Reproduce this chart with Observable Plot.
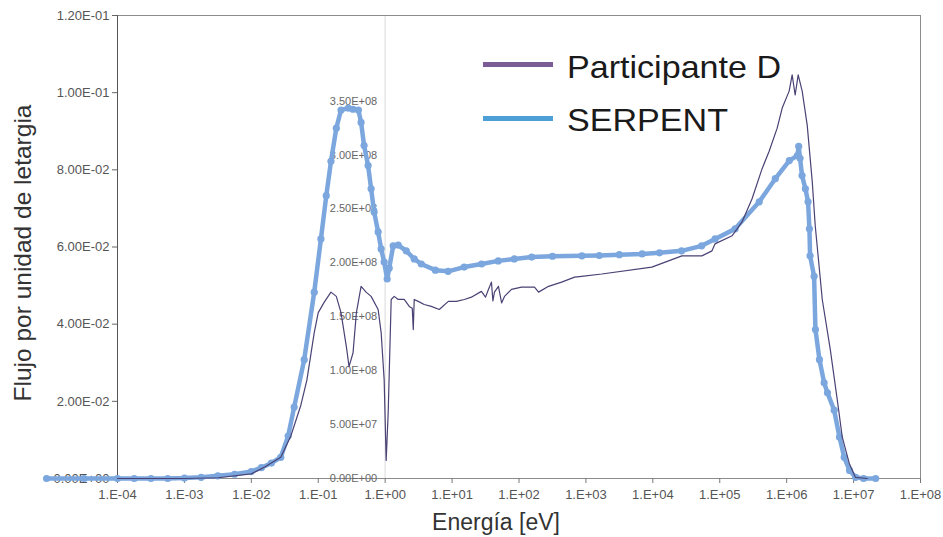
<!DOCTYPE html>
<html><head><meta charset="utf-8">
<script src="https://cdn.jsdelivr.net/npm/d3@7"></script>
<script src="https://cdn.jsdelivr.net/npm/@observablehq/plot@0.6"></script>
<style>
body{margin:0;background:#fff;}
#wrap{position:relative;width:943px;height:537px;font-family:"Liberation Sans",Arial,sans-serif;}
.sw{position:absolute;left:483px;width:70px;height:5px;}
.lg{position:absolute;left:567px;font-size:32px;line-height:32px;color:#1a1a1a;white-space:nowrap;transform:scaleX(1.065);transform-origin:left center;}
</style></head><body>
<div id="wrap">
  <div class="sw" style="top:62px;background:#7b5c94"></div>
  <div class="lg" style="top:51px">Participante D</div>
  <div class="sw" style="top:116px;background:#4da0d6"></div>
  <div class="lg" style="top:104px">SERPENT</div>
</div>
<script>
// Energy given as log10(E / eV), flux per unit lethargy
const serpentExp = [-5.06,-4.5,-4,-3.75,-3.5,-3.25,-3.0,-2.75,-2.5,-2.25,-2.0,-1.85,-1.7,-1.56,-1.45,-1.36,-1.21,-1.06,-0.96,-0.88,-0.81,-0.73,-0.66,-0.55,-0.48,-0.40,-0.36,-0.315,-0.255,-0.21,-0.165,-0.105,-0.06,-0.015,0.03,0.06,0.12,0.195,0.315,0.434,0.54,0.75,0.94,1.18,1.44,1.69,1.93,2.19,2.5,2.94,3.2,3.5,3.84,4.1,4.43,4.73,4.93,5.23,5.59,5.83,6.04,6.16,6.18,6.20,6.23,6.28,6.32,6.34,6.35,6.41,6.43,6.49,6.56,6.61,6.71,6.79,6.86,6.94,7.03,7.15,7.33];
const serpentVal = [0,0,0,0,0,0,0.0001,0.0003,0.0007,0.0011,0.0018,0.0028,0.0040,0.0055,0.0110,0.0185,0.0308,0.0483,0.0621,0.0733,0.0822,0.0908,0.0955,0.0960,0.0957,0.0955,0.0923,0.0863,0.0811,0.0751,0.0691,0.0639,0.0595,0.0561,0.0517,0.0545,0.0603,0.0605,0.0590,0.0569,0.0556,0.0540,0.0537,0.0548,0.0556,0.0564,0.0569,0.0574,0.0576,0.0577,0.0578,0.0580,0.0582,0.0585,0.0590,0.0603,0.0621,0.0647,0.0717,0.0777,0.0824,0.0837,0.0861,0.0830,0.0785,0.0751,0.0717,0.0647,0.0577,0.0524,0.0386,0.0308,0.0248,0.0222,0.0177,0.0107,0.0055,0.0021,0.0003,0,0];

const partExp = [-4,-3,-2.5,-2.0,-1.8,-1.56,-1.41,-1.26,-1.17,-1.06,-1.00,-0.91,-0.81,-0.73,-0.66,-0.58,-0.54,-0.48,-0.43,-0.36,-0.285,-0.21,-0.105,-0.06,-0.015,0.015,0.045,0.09,0.135,0.195,0.285,0.36,0.405,0.42,0.434,0.494,0.584,0.689,0.809,0.944,1.064,1.184,1.288,1.438,1.50,1.543,1.588,1.61,1.633,1.693,1.74,1.783,1.888,2.037,2.232,2.292,2.442,2.637,2.831,2.936,3.236,3.985,4.434,4.734,4.884,4.929,5.184,5.333,5.483,5.633,5.738,5.858,5.933,6.037,6.082,6.127,6.172,6.232,6.307,6.382,6.427,6.532,6.652,6.757,6.831,6.936,7.026,7.206];
const partVal = [0,0,0.0002,0.0012,0.0030,0.0055,0.0110,0.0190,0.0255,0.0378,0.0430,0.0457,0.0483,0.0472,0.0430,0.0342,0.0290,0.0326,0.0430,0.0498,0.0483,0.0472,0.0438,0.0378,0.0256,0.0047,0.0170,0.0464,0.0472,0.0464,0.0464,0.0446,0.0441,0.0386,0.0464,0.0459,0.0451,0.0446,0.0438,0.0459,0.0459,0.0464,0.0470,0.0485,0.0470,0.0490,0.0509,0.0460,0.0483,0.0498,0.0455,0.0472,0.0490,0.0496,0.0496,0.0483,0.0498,0.0509,0.0522,0.0524,0.0530,0.0548,0.0577,0.0577,0.0590,0.0608,0.0629,0.0665,0.0725,0.0803,0.0848,0.0908,0.0960,0.1004,0.1046,0.0994,0.1046,0.1004,0.0916,0.0770,0.0655,0.0464,0.0334,0.0203,0.0107,0.0039,0.0003,0];

const xTickExp = [-4,-3,-2,-1,0,1,2,3,4,5,6,7,8];
const yTicks = [0,0.02,0.04,0.06,0.08,0.10,0.12];
// stray secondary axis labels left in the picture (values and where 3.5E+08 sits on the main axis)
const innerTicks = [0,5e7,1e8,1.5e8,2e8,2.5e8,3e8,3.5e8];
const innerTop = 3.5e8, innerTopOnMain = 0.0978;

const serpent = serpentExp.map((e,i)=>({E:10**e, v:serpentVal[i]}));
const part = partExp.map((e,i)=>({E:10**e, v:partVal[i]}));
const xTicks = xTickExp.map(e=>10**e);

const pad2 = n => String(Math.abs(n)).padStart(2,"0");
const fmtX = d => { const e = Math.round(Math.log10(d)); return "1.E" + (e<0?"-":"+") + pad2(e); };
const fmtSci = d => { const [m,e] = d.toExponential(2).split("e"); const n = +e; return m.toUpperCase() + "E" + (n<0?"-":"+") + pad2(n); };

const blue = "#7ba7de";
const chart = Plot.plot({
  width:943, height:537,
  marginLeft:117, marginRight:23, marginTop:15, marginBottom:59,
  style:{fontFamily:"Liberation Sans, Arial, sans-serif", fontSize:"13px", color:"#555", background:"transparent"},
  x:{type:"log", domain:[1e-4,1e8]},
  y:{domain:[0,0.12]},
  marks:[
    Plot.ruleX([1], {stroke:"#e6e6e6", strokeWidth:1.5}),
    Plot.frame({stroke:"#8c8c8c"}),
    Plot.axisX({ticks:xTicks, tickFormat:fmtX, tickSize:5, tickPadding:6, label:null, stroke:"#777", fontSize:13}),
    Plot.axisY({ticks:yTicks, tickFormat:fmtSci, tickSize:5, tickPadding:3, label:null, stroke:"#666", fontSize:13}),
    Plot.ruleX([1e-4], {stroke:"#555"}),
    Plot.text(innerTicks, {x:()=>1, y:d=>d*innerTopOnMain/innerTop, text:fmtSci, textAnchor:"end", dx:-8, fontSize:11, fill:"#666"}),
    Plot.line(serpent, {x:"E", y:"v", stroke:blue, strokeWidth:4.5}),
    Plot.dot(serpent, {x:"E", y:"v", r:3.6, fill:blue, stroke:null}),
    Plot.line(part, {x:"E", y:"v", stroke:"#4a4274", strokeWidth:1.2}),
    Plot.text(["Flujo por unidad de letargia"], {text:d=>d, frameAnchor:"left", textAnchor:"middle", lineAnchor:"middle", rotate:-90, dx:-94, dy:6, fontSize:24.5, fill:"#333"}),
    Plot.text(["Energía [eV]"], {text:d=>d, frameAnchor:"bottom", textAnchor:"middle", lineAnchor:"middle", dx:-23, dy:44, fontSize:23, fill:"#333"})
  ]
});
chart.style.position = "absolute";
chart.style.left = "0";
chart.style.top = "0";
document.getElementById("wrap").prepend(chart);
</script></body></html>
